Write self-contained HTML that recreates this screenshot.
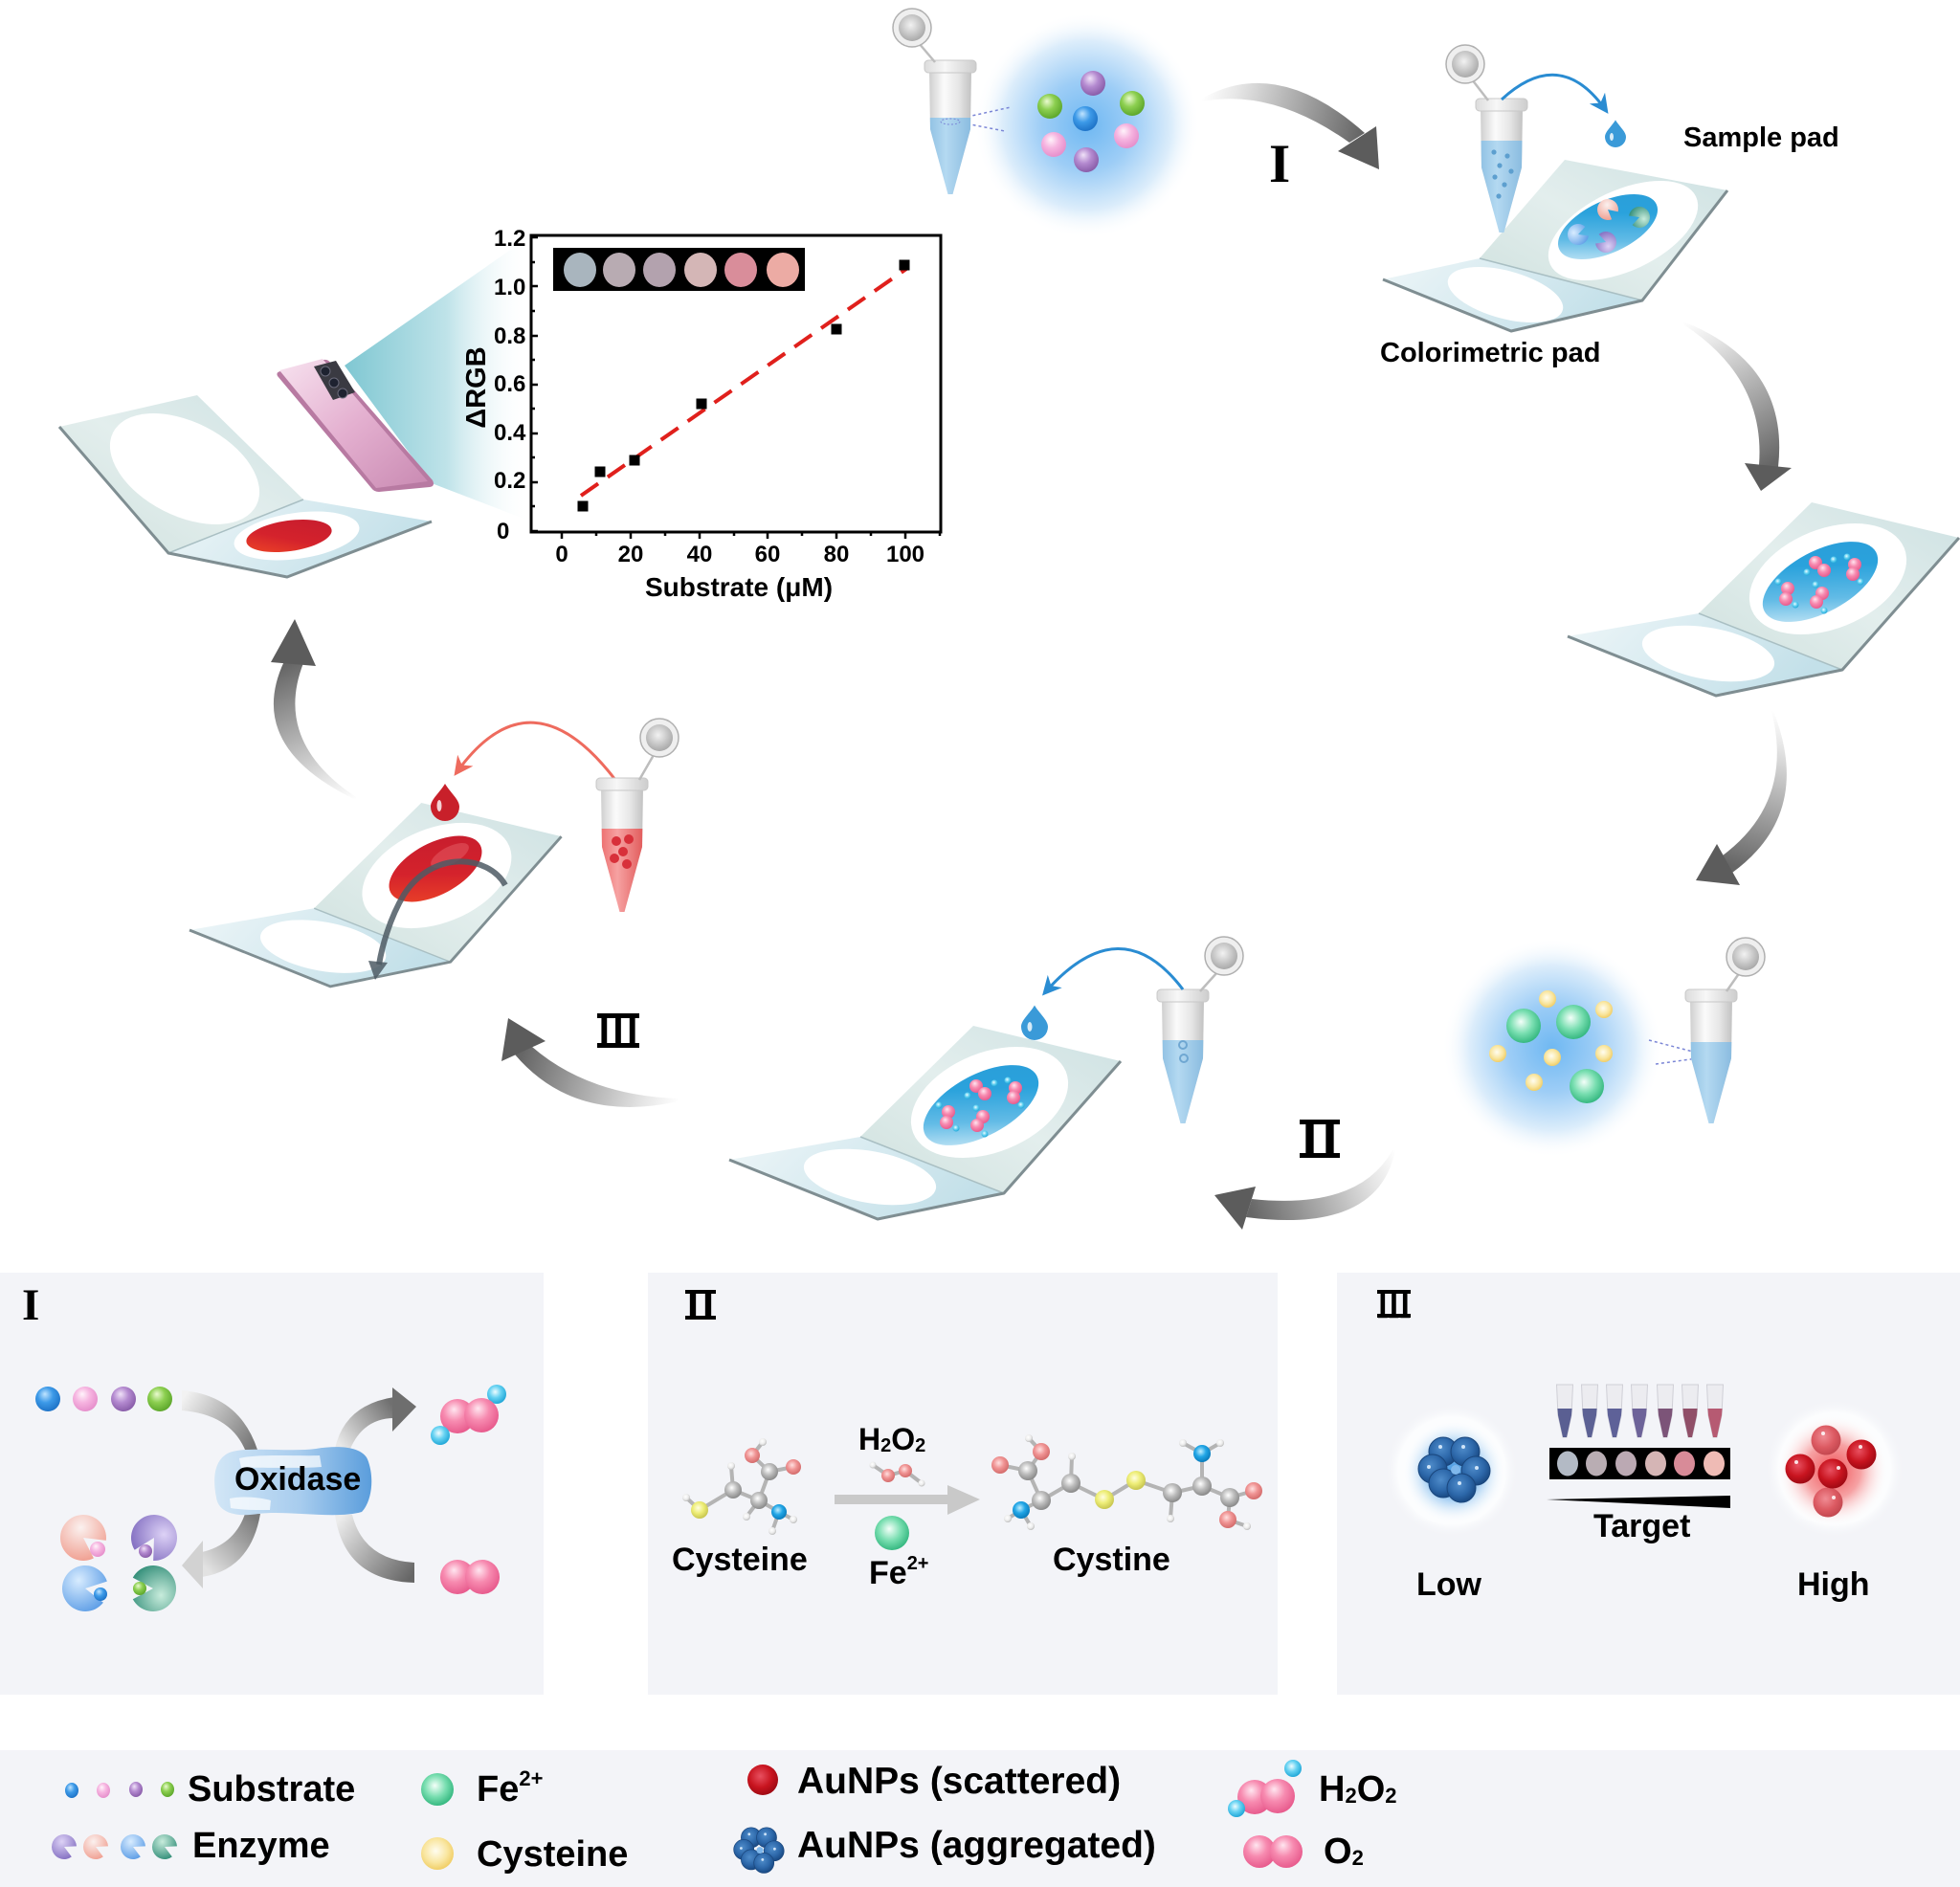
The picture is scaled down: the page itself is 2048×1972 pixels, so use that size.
<!DOCTYPE html>
<html><head><meta charset="utf-8">
<style>
html,body{margin:0;padding:0;background:#fff;}
svg{display:block;}
text{font-family:"Liberation Sans",Arial,sans-serif;font-weight:bold;fill:#000;}
.rn{font-family:"Liberation Serif","Times New Roman",serif;font-weight:bold;}
</style></head><body>
<svg width="2048" height="1972" viewBox="0 0 2048 1972" xmlns="http://www.w3.org/2000/svg">
<defs>
<radialGradient id="glowB" cx="0.5" cy="0.5" r="0.5">
 <stop offset="0" stop-color="#6fb8f2"/><stop offset="0.4" stop-color="#9dcdf6"/><stop offset="0.75" stop-color="#dcedfb"/><stop offset="1" stop-color="#ffffff" stop-opacity="0"/>
</radialGradient>
<radialGradient id="bBlue" cx="0.42" cy="0.38" r="0.62" fx="0.38" fy="0.3"><stop offset="0" stop-color="#c0e4ff"/><stop offset="0.5" stop-color="#3d9ae8"/><stop offset="1" stop-color="#1f74c8"/></radialGradient>
<radialGradient id="bPink" cx="0.42" cy="0.38" r="0.62" fx="0.38" fy="0.3"><stop offset="0" stop-color="#fff4fb"/><stop offset="0.5" stop-color="#f6b4e0"/><stop offset="1" stop-color="#e690cc"/></radialGradient>
<radialGradient id="bPurple" cx="0.42" cy="0.38" r="0.62" fx="0.38" fy="0.3"><stop offset="0" stop-color="#f0e2f8"/><stop offset="0.5" stop-color="#b48ad0"/><stop offset="1" stop-color="#8a5eaa"/></radialGradient>
<radialGradient id="bGreen" cx="0.42" cy="0.38" r="0.62" fx="0.38" fy="0.3"><stop offset="0" stop-color="#eafad0"/><stop offset="0.5" stop-color="#8ccf50"/><stop offset="1" stop-color="#5ea82c"/></radialGradient>
<radialGradient id="bFe" cx="0.45" cy="0.42" r="0.6" fx="0.42" fy="0.38"><stop offset="0" stop-color="#f4fff9"/><stop offset="0.55" stop-color="#78deb0"/><stop offset="1" stop-color="#32b67e"/></radialGradient>
<radialGradient id="bYel" cx="0.45" cy="0.42" r="0.6"><stop offset="0" stop-color="#fffdf0"/><stop offset="0.6" stop-color="#f9e6a0"/><stop offset="1" stop-color="#f0cc62"/></radialGradient>
<radialGradient id="bHP" cx="0.42" cy="0.38" r="0.62" fx="0.4" fy="0.3"><stop offset="0" stop-color="#ffe6f0"/><stop offset="0.5" stop-color="#f78bb0"/><stop offset="1" stop-color="#e85c8e"/></radialGradient>
<radialGradient id="bCyan" cx="0.42" cy="0.38" r="0.62"><stop offset="0" stop-color="#effcff"/><stop offset="0.5" stop-color="#66d2f2"/><stop offset="1" stop-color="#22a8d8"/></radialGradient>
<radialGradient id="bRed" cx="0.42" cy="0.38" r="0.62"><stop offset="0" stop-color="#e85060"/><stop offset="0.6" stop-color="#c8141f"/><stop offset="1" stop-color="#a00a14"/></radialGradient>
<radialGradient id="bRedL" cx="0.42" cy="0.38" r="0.62"><stop offset="0" stop-color="#f08c94"/><stop offset="0.6" stop-color="#dc5a62"/><stop offset="1" stop-color="#c44850"/></radialGradient>
<radialGradient id="bNavy" cx="0.42" cy="0.38" r="0.62"><stop offset="0" stop-color="#4f8cca"/><stop offset="0.6" stop-color="#2d68aa"/><stop offset="1" stop-color="#1a4a84"/></radialGradient>
<radialGradient id="bC" cx="0.42" cy="0.38" r="0.62"><stop offset="0" stop-color="#ffffff"/><stop offset="0.5" stop-color="#bdbdbd"/><stop offset="1" stop-color="#8a8a8a"/></radialGradient>
<radialGradient id="bO" cx="0.42" cy="0.38" r="0.62"><stop offset="0" stop-color="#ffe0e0"/><stop offset="0.5" stop-color="#f09494"/><stop offset="1" stop-color="#d46c6c"/></radialGradient>
<radialGradient id="bN" cx="0.42" cy="0.38" r="0.62"><stop offset="0" stop-color="#c0eeff"/><stop offset="0.5" stop-color="#22a6e6"/><stop offset="1" stop-color="#0a7cbc"/></radialGradient>
<radialGradient id="bS" cx="0.42" cy="0.38" r="0.62"><stop offset="0" stop-color="#fffde0"/><stop offset="0.5" stop-color="#eeee78"/><stop offset="1" stop-color="#c8c650"/></radialGradient>
<radialGradient id="bH" cx="0.42" cy="0.38" r="0.62"><stop offset="0" stop-color="#ffffff"/><stop offset="0.6" stop-color="#ececec"/><stop offset="1" stop-color="#bcbcbc"/></radialGradient>
<radialGradient id="eP" cx="0.35" cy="0.35" r="0.75"><stop offset="0" stop-color="#fbf1ef"/><stop offset="1" stop-color="#f0a092"/></radialGradient>
<radialGradient id="ePu" cx="0.35" cy="0.35" r="0.75"><stop offset="0" stop-color="#ddd2f6"/><stop offset="1" stop-color="#8470c2"/></radialGradient>
<radialGradient id="eB" cx="0.35" cy="0.35" r="0.75"><stop offset="0" stop-color="#d8ecff"/><stop offset="1" stop-color="#5e9ee6"/></radialGradient>
<radialGradient id="eT" cx="0.35" cy="0.35" r="0.75"><stop offset="0" stop-color="#c8ecdc"/><stop offset="1" stop-color="#348f7a"/></radialGradient>
<linearGradient id="tubeG" x1="0" y1="0" x2="1" y2="0"><stop offset="0" stop-color="#cfcfcf"/><stop offset="0.35" stop-color="#fbfbfb"/><stop offset="0.7" stop-color="#e6e6e6"/><stop offset="1" stop-color="#c2c2c2"/></linearGradient>
<linearGradient id="rimG" x1="0" y1="0" x2="1" y2="0"><stop offset="0" stop-color="#dcdcdc"/><stop offset="0.4" stop-color="#f7f7f7"/><stop offset="1" stop-color="#cdcdcd"/></linearGradient>
<radialGradient id="capG" cx="0.45" cy="0.4" r="0.6"><stop offset="0" stop-color="#f2f2f2"/><stop offset="1" stop-color="#a9a9a9"/></radialGradient>
<linearGradient id="liqB" x1="0" y1="0" x2="1" y2="0"><stop offset="0" stop-color="#8dbfe2"/><stop offset="0.4" stop-color="#b4d9f1"/><stop offset="1" stop-color="#86b9de"/></linearGradient>
<linearGradient id="liqR" x1="0" y1="0" x2="1" y2="0"><stop offset="0" stop-color="#ec6a6a"/><stop offset="0.4" stop-color="#f6a2a2"/><stop offset="1" stop-color="#e05656"/></linearGradient>
<clipPath id="tubeClip"><path d="M-22,10 L22,10 L21,72 L2.5,140 L-2.5,140 L-21,72 Z"/></clipPath>
<linearGradient id="padLow" x1="0" y1="0" x2="1" y2="0.3"><stop offset="0" stop-color="#eef6f8"/><stop offset="1" stop-color="#c3e0e9"/></linearGradient>
<linearGradient id="padUp" x1="0" y1="1" x2="1" y2="0"><stop offset="0" stop-color="#cfe1de"/><stop offset="0.5" stop-color="#e3eeed"/><stop offset="1" stop-color="#cde1e2"/></linearGradient>
<linearGradient id="blueE" x1="0" y1="1" x2="1" y2="0"><stop offset="0" stop-color="#eaf6fb"/><stop offset="0.35" stop-color="#62bbe6"/><stop offset="0.65" stop-color="#2aa2dc"/><stop offset="1" stop-color="#2a9cd8"/></linearGradient>
<linearGradient id="redE" x1="0" y1="1" x2="1" y2="0"><stop offset="0" stop-color="#f04a26"/><stop offset="0.45" stop-color="#d4222c"/><stop offset="1" stop-color="#c41c2e"/></linearGradient>
<linearGradient id="phoneG" x1="0" y1="0" x2="1" y2="1"><stop offset="0" stop-color="#f7e2ef"/><stop offset="0.5" stop-color="#e4b0d0"/><stop offset="1" stop-color="#c98ab2"/></linearGradient>
<linearGradient id="frustG" x1="0" y1="0" x2="1" y2="0"><stop offset="0" stop-color="#7fc7d2"/><stop offset="0.55" stop-color="#bfe3e9"/><stop offset="1" stop-color="#ffffff" stop-opacity="0"/></linearGradient>
<linearGradient id="oxG" x1="0" y1="0" x2="1" y2="0"><stop offset="0" stop-color="#d2e6f6"/><stop offset="0.55" stop-color="#a7ccee"/><stop offset="1" stop-color="#5a9ddc"/></linearGradient>
<radialGradient id="haloW" cx="0.5" cy="0.5" r="0.5"><stop offset="0" stop-color="#ffffff"/><stop offset="0.8" stop-color="#fcfdfe"/><stop offset="1" stop-color="#f3f4f8" stop-opacity="0"/></radialGradient>
<radialGradient id="glowBl" cx="0.5" cy="0.5" r="0.5"><stop offset="0" stop-color="#3f95e0"/><stop offset="0.5" stop-color="#7ab8ee" stop-opacity="0.8"/><stop offset="1" stop-color="#ffffff" stop-opacity="0"/></radialGradient>
<radialGradient id="glowRd" cx="0.5" cy="0.5" r="0.5"><stop offset="0" stop-color="#f04a50"/><stop offset="0.5" stop-color="#f48a8c" stop-opacity="0.8"/><stop offset="1" stop-color="#ffffff" stop-opacity="0"/></radialGradient>
<linearGradient id="gA1" gradientUnits="userSpaceOnUse" x1="1256" y1="103" x2="1420" y2="145"><stop offset="0" stop-color="#ffffff"/><stop offset="0.2" stop-color="#e6e6e6"/><stop offset="1" stop-color="#666"/></linearGradient>
<linearGradient id="gA2" gradientUnits="userSpaceOnUse" x1="1759" y1="336" x2="1848" y2="487"><stop offset="0" stop-color="#ffffff"/><stop offset="0.2" stop-color="#e6e6e6"/><stop offset="1" stop-color="#666"/></linearGradient>
<linearGradient id="gA3" gradientUnits="userSpaceOnUse" x1="1853" y1="743" x2="1805" y2="903"><stop offset="0" stop-color="#ffffff"/><stop offset="0.2" stop-color="#e6e6e6"/><stop offset="1" stop-color="#666"/></linearGradient>
<linearGradient id="gA4" gradientUnits="userSpaceOnUse" x1="1458" y1="1202" x2="1305" y2="1263"><stop offset="0" stop-color="#ffffff"/><stop offset="0.2" stop-color="#e6e6e6"/><stop offset="1" stop-color="#666"/></linearGradient>
<linearGradient id="gA5" gradientUnits="userSpaceOnUse" x1="709" y1="1151" x2="547" y2="1098"><stop offset="0" stop-color="#ffffff"/><stop offset="0.2" stop-color="#e6e6e6"/><stop offset="1" stop-color="#666"/></linearGradient>
<linearGradient id="gA6" gradientUnits="userSpaceOnUse" x1="372" y1="836" x2="307" y2="692"><stop offset="0" stop-color="#ffffff"/><stop offset="0.2" stop-color="#e6e6e6"/><stop offset="1" stop-color="#666"/></linearGradient>
<linearGradient id="gP1" gradientUnits="userSpaceOnUse" x1="190" y1="1463" x2="262" y2="1513"><stop offset="0" stop-color="#f2f2f2"/><stop offset="1" stop-color="#777"/></linearGradient>
<linearGradient id="gP2" gradientUnits="userSpaceOnUse" x1="358" y1="1513" x2="412" y2="1471"><stop offset="0" stop-color="#e8e8e8"/><stop offset="1" stop-color="#707070"/></linearGradient>
<linearGradient id="gP3" gradientUnits="userSpaceOnUse" x1="264" y1="1583" x2="211" y2="1635"><stop offset="0" stop-color="#7a7a7a"/><stop offset="1" stop-color="#e2e2e2"/></linearGradient>
<linearGradient id="gP4" gradientUnits="userSpaceOnUse" x1="358" y1="1583" x2="433" y2="1643"><stop offset="0" stop-color="#ececec"/><stop offset="1" stop-color="#666"/></linearGradient>
<marker id="mBlue" viewBox="0 0 10 10" markerWidth="20" markerHeight="20" refX="7" refY="5" orient="auto" markerUnits="userSpaceOnUse"><path d="M0,0 L10,5 L0,10 L3,5 Z" fill="#2a8cd2"/></marker>
<marker id="mRed" viewBox="0 0 10 10" markerWidth="20" markerHeight="20" refX="7" refY="5" orient="auto" markerUnits="userSpaceOnUse"><path d="M0,0 L10,5 L0,10 L3,5 Z" fill="#ee6b5e"/></marker>
<path id="pac" d="M0,0 L0.883,-0.469 A1,1 0 1,0 0.883,0.469 Z"/>
<path id="drop" d="M0,-1.6 C0.35,-1 1,-0.5 1,0 A1,1 0 1,1 -1,0 C-1,-0.5 -0.35,-1 0,-1.6 Z"/>
<g id="pad">
 <path d="M0,0 L155,62 L287,35 L137,-24 Z" fill="url(#padLow)"/>
 <path d="M137,-24 L287,35 L409,-103 L255,-140 Z" fill="url(#padUp)"/>
 <path d="M137,-24 L287,35" stroke="#a9bfc3" stroke-width="1.5"/>
 <path d="M0,0 L155,62 L287,35 L409,-103" fill="none" stroke="#7f8e92" stroke-width="3" stroke-linejoin="round"/>
 <ellipse cx="147" cy="18" rx="70" ry="27" transform="rotate(10 147 18)" fill="#fff"/>
 <ellipse cx="272" cy="-60" rx="86" ry="52" transform="rotate(-22 272 -60)" fill="#fff"/>
</g>
<g id="h2o2s">
 <circle cx="1916" cy="585" r="3.5" fill="url(#bCyan)"/><circle cx="1888" cy="598" r="3.5" fill="url(#bCyan)"/>
 <circle cx="1897" cy="588" r="7" fill="url(#bHP)"/><circle cx="1906" cy="596" r="7" fill="url(#bHP)"/>
 <circle cx="1930" cy="582" r="3.5" fill="url(#bCyan)"/><circle cx="1944" cy="608" r="3.5" fill="url(#bCyan)"/>
 <circle cx="1938" cy="590" r="7" fill="url(#bHP)"/><circle cx="1936" cy="600" r="7" fill="url(#bHP)"/>
 <circle cx="1858" cy="608" r="3.5" fill="url(#bCyan)"/><circle cx="1876" cy="632" r="3.5" fill="url(#bCyan)"/>
 <circle cx="1868" cy="615" r="7" fill="url(#bHP)"/><circle cx="1866" cy="626" r="7" fill="url(#bHP)"/>
 <circle cx="1897" cy="611" r="3.5" fill="url(#bCyan)"/><circle cx="1906" cy="638" r="3.5" fill="url(#bCyan)"/>
 <circle cx="1904" cy="620" r="7" fill="url(#bHP)"/><circle cx="1898" cy="629" r="7" fill="url(#bHP)"/>
</g>
<g id="cluster">
 <circle cx="-13" cy="-21" r="15" fill="url(#bNavy)" stroke="#1a467c" stroke-width="1"/>
 <circle cx="10" cy="-21" r="15" fill="url(#bNavy)" stroke="#1a467c" stroke-width="1"/>
 <circle cx="-24" cy="-3" r="15" fill="url(#bNavy)" stroke="#1a467c" stroke-width="1"/>
 <circle cx="21" cy="-1" r="15" fill="url(#bNavy)" stroke="#1a467c" stroke-width="1"/>
 <circle cx="-13" cy="12" r="15" fill="url(#bNavy)" stroke="#1a467c" stroke-width="1"/>
 <circle cx="6" cy="17" r="15" fill="url(#bNavy)" stroke="#1a467c" stroke-width="1"/>
 <circle cx="0" cy="-2" r="5" fill="#7fb8ec"/>
 <circle cx="-16" cy="-26" r="2" fill="#cfe4f8"/><circle cx="8" cy="-26" r="2" fill="#cfe4f8"/><circle cx="-28" cy="-5" r="2" fill="#cfe4f8"/><circle cx="22" cy="-4" r="2" fill="#cfe4f8"/><circle cx="4" cy="12" r="2" fill="#cfe4f8"/>
</g>
<g id="minitube">
 <path d="M-8.5,0 L8.5,0 L7,32 L2,55 L-2,55 L-7,32 Z" fill="#ececf0" stroke="#cfcfd6" stroke-width="1"/>
</g>
</defs>

<!-- ===== Top glow 1 ===== -->
<circle cx="1136" cy="131" r="118" fill="url(#glowB)"/>
<circle cx="1142" cy="87" r="13" fill="url(#bPurple)"/>
<circle cx="1097" cy="111" r="13" fill="url(#bGreen)"/>
<circle cx="1134" cy="124" r="13" fill="url(#bBlue)"/>
<circle cx="1183" cy="108" r="13" fill="url(#bGreen)"/>
<circle cx="1101" cy="151" r="13" fill="url(#bPink)"/>
<circle cx="1177" cy="142" r="13" fill="url(#bPink)"/>
<circle cx="1135" cy="167" r="13" fill="url(#bPurple)"/>
<path d="M993,126 L1056,112 M993,126 L1050,137" stroke="#7b86d6" stroke-width="1.5" stroke-dasharray="3,3" fill="none"/>

<!-- Tube 1 -->
<g transform="translate(993,63)">
 <path d="M-22,10 L22,10 L21,72 L2.5,140 L-2.5,140 L-21,72 Z" fill="url(#tubeG)"/>
 <rect x="-24" y="60" width="48" height="82" fill="url(#liqB)" clip-path="url(#tubeClip)"/>
 <ellipse cx="0" cy="64" rx="10" ry="3" fill="none" stroke="#7b86d6" stroke-width="1" stroke-dasharray="2,2"/>
 <rect x="-27" y="0" width="54" height="13" rx="4" fill="url(#rimG)" stroke="#c8c8c8"/>
 <path d="M-33,-18 L-16,2" stroke="#bdbdbd" stroke-width="2.5"/>
 <circle cx="-40" cy="-34" r="20" fill="#efefef" stroke="#b0b0b0" stroke-width="1.5"/>
 <circle cx="-40" cy="-34" r="14" fill="url(#capG)"/>
</g>

<!-- Arrow I -->
<path d="M1256,103 Q1335,58 1426,139 L1410,149 Q1330,92 1256,106 Z" fill="url(#gA1)"/>
<polygon points="1398,158 1438,132 1441,177" fill="#5c5c5c"/>
<text class="rn" x="1326" y="190" font-size="57">I</text>

<!-- Pad 1 -->
<path d="M1445,292 L1579,346 L1716,314 L1546,270 Z" fill="url(#padLow)"/>
<path d="M1546,270 L1716,314 L1805,199 L1635,167 Z" fill="url(#padUp)"/>
<path d="M1546,270 L1716,314" stroke="#a9bfc3" stroke-width="1.5"/>
<path d="M1445,292 L1579,346 L1716,314 L1805,199" fill="none" stroke="#7f8e92" stroke-width="3" stroke-linejoin="round"/>
<ellipse cx="1573" cy="308" rx="62" ry="25" transform="rotate(15 1573 308)" fill="#fff"/>
<ellipse cx="1696" cy="241" rx="84" ry="42" transform="rotate(-25 1696 241)" fill="#fff"/>
<ellipse cx="1680" cy="237" rx="56" ry="27" transform="rotate(-25 1680 237)" fill="url(#blueE)"/>
<use href="#pac" transform="translate(1680,219) rotate(40) scale(11)" fill="url(#eP)"/>
<use href="#pac" transform="translate(1713,227) rotate(160) scale(11)" fill="url(#eT)"/>
<use href="#pac" transform="translate(1649,245) rotate(-20) scale(11)" fill="url(#eB)"/>
<use href="#pac" transform="translate(1678,253) rotate(200) scale(11)" fill="url(#ePu)"/>

<!-- Tube 2 -->
<g transform="translate(1569,103)">
 <path d="M-22,10 L22,10 L21,72 L2.5,140 L-2.5,140 L-21,72 Z" fill="url(#tubeG)"/>
 <rect x="-24" y="44" width="48" height="98" fill="url(#liqB)" clip-path="url(#tubeClip)"/>
 <g fill="#5d9fcf"><circle cx="-8" cy="56" r="2.6"/><circle cx="6" cy="60" r="2.6"/><circle cx="-2" cy="70" r="2.6"/><circle cx="10" cy="76" r="2.6"/><circle cx="-7" cy="82" r="2.6"/><circle cx="3" cy="90" r="2.6"/><circle cx="-3" cy="102" r="2.6"/></g>
 <rect x="-27" y="0" width="54" height="13" rx="4" fill="url(#rimG)" stroke="#c8c8c8"/>
 <path d="M-31,-20 L-14,2" stroke="#bdbdbd" stroke-width="2.5"/>
 <circle cx="-38" cy="-36" r="20" fill="#efefef" stroke="#b0b0b0" stroke-width="1.5"/>
 <circle cx="-38" cy="-36" r="14" fill="url(#capG)"/>
</g>
<path d="M1569,104 Q1630,48 1677,114" fill="none" stroke="#2a8cd2" stroke-width="3" marker-end="url(#mBlue)"/>
<use href="#drop" transform="translate(1688,143) scale(11)" fill="#3a9ad8"/>
<ellipse cx="1684" cy="143" rx="2" ry="4" fill="#fff" opacity="0.8"/>
<text x="1759" y="153" font-size="29">Sample pad</text>
<text x="1442" y="378" font-size="29">Colorimetric pad</text>

<!-- Arrow 2 -->
<path d="M1759,336 Q1870,380 1858,488 L1838,486 Q1845,395 1759,339 Z" fill="url(#gA2)"/>
<polygon points="1823,484 1872,489 1840,513" fill="#5c5c5c"/>

<!-- Pad 2 -->
<use href="#pad" transform="translate(1638,665)"/>
<ellipse cx="1902" cy="608" rx="66" ry="32" transform="rotate(-28 1902 608)" fill="url(#blueE)"/>
<use href="#h2o2s"/>

<!-- Arrow 3 -->
<path d="M1853,743 Q1895,850 1810,912 L1800,894 Q1875,838 1851,743 Z" fill="url(#gA3)"/>
<polygon points="1794,882 1818,925 1772,920" fill="#5c5c5c"/>

<!-- Glow 2 -->
<circle cx="1622" cy="1095" r="115" fill="url(#glowB)"/>
<circle cx="1617" cy="1044" r="9" fill="url(#bYel)"/>
<circle cx="1676" cy="1055" r="9" fill="url(#bYel)"/>
<circle cx="1565" cy="1101" r="9" fill="url(#bYel)"/>
<circle cx="1622" cy="1105" r="9" fill="url(#bYel)"/>
<circle cx="1676" cy="1101" r="9" fill="url(#bYel)"/>
<circle cx="1603" cy="1131" r="9" fill="url(#bYel)"/>
<circle cx="1592" cy="1072" r="18" fill="url(#bFe)"/>
<circle cx="1644" cy="1068" r="18" fill="url(#bFe)"/>
<circle cx="1658" cy="1135" r="18" fill="url(#bFe)"/>
<path d="M1723,1087 L1788,1104 M1730,1112 L1788,1104" stroke="#7b86d6" stroke-width="1.5" stroke-dasharray="3,3" fill="none"/>

<!-- Tube 3 -->
<g transform="translate(1788,1034)">
 <path d="M-22,10 L22,10 L21,72 L2.5,140 L-2.5,140 L-21,72 Z" fill="url(#tubeG)"/>
 <rect x="-24" y="55" width="48" height="87" fill="url(#liqB)" clip-path="url(#tubeClip)"/>
 <rect x="-27" y="0" width="54" height="13" rx="4" fill="url(#rimG)" stroke="#c8c8c8"/>
 <path d="M30,-18 L16,2" stroke="#bdbdbd" stroke-width="2.5"/>
 <circle cx="36" cy="-34" r="20" fill="#efefef" stroke="#b0b0b0" stroke-width="1.5"/>
 <circle cx="36" cy="-34" r="14" fill="url(#capG)"/>
</g>

<!-- Tube 4 -->
<g transform="translate(1236,1034)">
 <path d="M-22,10 L22,10 L21,72 L2.5,140 L-2.5,140 L-21,72 Z" fill="url(#tubeG)"/>
 <rect x="-24" y="53" width="48" height="89" fill="url(#liqB)" clip-path="url(#tubeClip)"/>
 <circle cx="0" cy="58" r="4" fill="none" stroke="#6fa7d2" stroke-width="2"/>
 <circle cx="1" cy="72" r="4" fill="none" stroke="#6fa7d2" stroke-width="2"/>
 <rect x="-27" y="0" width="54" height="13" rx="4" fill="url(#rimG)" stroke="#c8c8c8"/>
 <path d="M36,-18 L18,2" stroke="#bdbdbd" stroke-width="2.5"/>
 <circle cx="43" cy="-35" r="20" fill="#efefef" stroke="#b0b0b0" stroke-width="1.5"/>
 <circle cx="43" cy="-35" r="14" fill="url(#capG)"/>
</g>

<!-- Arrow II -->
<path d="M1458,1202 Q1440,1290 1302,1272 L1308,1253 Q1420,1265 1455,1202 Z" fill="url(#gA4)"/>
<polygon points="1312,1240 1298,1285 1269,1249" fill="#5c5c5c"/>
<text class="rn" x="1358" y="1210" font-size="60" textLength="42" lengthAdjust="spacingAndGlyphs">II</text>
<rect x="1358" y="1170" width="42" height="5" fill="#000"/>
<rect x="1358" y="1205" width="42" height="5" fill="#000"/>

<!-- Pad 3 -->
<use href="#pad" transform="translate(762,1212)"/>
<ellipse cx="1025" cy="1155" rx="66" ry="32" transform="rotate(-28 1025 1155)" fill="url(#blueE)"/>
<use href="#h2o2s" transform="translate(-877,547)"/>
<path d="M1236,1034 Q1171,948 1093,1036" fill="none" stroke="#2a8cd2" stroke-width="3" marker-end="url(#mBlue)"/>
<use href="#drop" transform="translate(1081,1073) scale(14)" fill="#3a9ad8"/>
<ellipse cx="1076" cy="1073" rx="2.5" ry="5" fill="#fff" opacity="0.8"/>

<!-- Arrow III -->
<path d="M709,1151 Q600,1175 538,1102 L556,1094 Q615,1145 709,1148 Z" fill="url(#gA5)"/>
<polygon points="524,1109 570,1088 531,1064" fill="#5c5c5c"/>
<text class="rn" x="624" y="1095" font-size="54" textLength="44" lengthAdjust="spacingAndGlyphs">III</text>
<rect x="624" y="1059" width="44" height="5" fill="#000"/>
<rect x="624" y="1090" width="44" height="5" fill="#000"/>

<!-- Pad 4 (red) -->
<use href="#pad" transform="translate(198,972) scale(0.95)"/>
<ellipse cx="455" cy="908" rx="53" ry="27" transform="rotate(-28 455 908)" fill="url(#redE)"/>
<ellipse cx="470" cy="894" rx="22" ry="9" transform="rotate(-28 470 894)" fill="#f07a80" opacity="0.35"/>
<path d="M528,925 C510,893 452,888 422,935 C407,960 399,990 396,1008" fill="none" stroke="#4d5a64" stroke-opacity="0.85" stroke-width="6"/>
<polygon points="385,1004 405,1006 392,1024" fill="#4d5a64" opacity="0.85"/>
<use href="#drop" transform="translate(465,843) scale(15)" fill="#c8202a"/>
<ellipse cx="459" cy="842" rx="2.5" ry="6" fill="#fff" opacity="0.8"/>
<path d="M643,815 Q555,700 478,806" fill="none" stroke="#ee6b5e" stroke-width="3" marker-end="url(#mRed)"/>

<!-- Tube 5 (red) -->
<g transform="translate(650,813)">
 <path d="M-22,10 L22,10 L21,72 L2.5,140 L-2.5,140 L-21,72 Z" fill="url(#tubeG)"/>
 <rect x="-24" y="53" width="48" height="89" fill="url(#liqR)" clip-path="url(#tubeClip)"/>
 <g fill="#d8303a"><circle cx="-6" cy="66" r="5"/><circle cx="7" cy="64" r="5"/><circle cx="1" cy="77" r="5"/><circle cx="-8" cy="84" r="5"/><circle cx="5" cy="90" r="5"/></g>
 <rect x="-27" y="0" width="54" height="13" rx="4" fill="url(#rimG)" stroke="#c8c8c8"/>
 <path d="M33,-24 L18,2" stroke="#bdbdbd" stroke-width="2.5"/>
 <circle cx="39" cy="-42" r="20" fill="#efefef" stroke="#b0b0b0" stroke-width="1.5"/>
 <circle cx="39" cy="-42" r="14" fill="url(#capG)"/>
</g>

<!-- Arrow left up -->
<path d="M372,836 Q255,780 297,691 L317,693 Q285,775 372,833 Z" fill="url(#gA6)"/>
<polygon points="283,692 330,696 308,647" fill="#5c5c5c"/>

<!-- Phone pad -->
<polygon points="360,382 555,246 555,545 451,505" fill="url(#frustG)"/>
<path d="M62,446 L206,413 L317,522 L176,578 Z" fill="url(#padUp)"/>
<path d="M176,578 L317,522 L451,545 L300,603 Z" fill="url(#padLow)"/>
<path d="M176,578 L317,522" stroke="#a9bfc3" stroke-width="1.5"/>
<path d="M62,446 L176,578 L300,603 L451,545" fill="none" stroke="#7f8e92" stroke-width="3" stroke-linejoin="round"/>
<ellipse cx="193" cy="490" rx="84" ry="49" transform="rotate(27 193 490)" fill="#fff"/>
<ellipse cx="310" cy="560" rx="66" ry="24" transform="rotate(-8 310 560)" fill="#fff"/>
<ellipse cx="302" cy="560" rx="45" ry="16" transform="rotate(-8 302 560)" fill="url(#redE)"/>
<!-- phone -->
<path d="M293,388 L338,376 Q343,375 346,380 L452,502 Q455,508 449,509 L396,514 Q391,514 388,510 L290,393 Q288,389 293,388 Z" fill="#b87aa2"/>
<path d="M292,387 L337,375 L447,503 L393,510 Z" fill="url(#phoneG)"/>
<path d="M328,383 L351,377 L371,410 L348,418 Z" fill="#3a3a42"/>
<circle cx="340" cy="388" r="5" fill="#1e2230" stroke="#6a6a7a"/>
<circle cx="349" cy="400" r="5" fill="#1e2230" stroke="#6a6a7a"/>
<circle cx="358" cy="411" r="5" fill="#1e2230" stroke="#6a6a7a"/>

<!-- Chart -->
<rect x="578" y="259" width="263" height="45" fill="#000"/>
<ellipse cx="606" cy="282" rx="17" ry="18" fill="#a9b5be"/>
<ellipse cx="647" cy="282" rx="17" ry="18" fill="#b8abb2"/>
<ellipse cx="689" cy="282" rx="17" ry="18" fill="#b3a2ae"/>
<ellipse cx="732" cy="282" rx="17" ry="18" fill="#d4b6b6"/>
<ellipse cx="774" cy="282" rx="17" ry="18" fill="#d98d9a"/>
<ellipse cx="818" cy="282" rx="17" ry="18" fill="#ecaba4"/>
<rect x="555" y="246" width="428" height="310" fill="none" stroke="#000" stroke-width="3"/>
<g stroke="#000" stroke-width="2.5" fill="none">
 <path d="M555,555 h7 M555,504 h7 M555,453 h7 M555,402 h7 M555,351 h7 M555,299 h7 M555,248 h7"/>
 <path d="M555,529 h4 M555,478 h4 M555,427 h4 M555,376 h4 M555,325 h4 M555,274 h4"/>
 <path d="M587,556 v7 M659,556 v7 M731,556 v7 M802,556 v7 M874,556 v7 M946,556 v7"/>
 <path d="M623,556 v4 M695,556 v4 M767,556 v4 M838,556 v4 M910,556 v4 M982,556 v4"/>
</g>
<g font-size="24">
 <text x="516" y="257">1.2</text>
 <text x="516" y="308">1.0</text>
 <text x="516" y="359">0.8</text>
 <text x="516" y="409">0.6</text>
 <text x="516" y="460">0.4</text>
 <text x="516" y="510">0.2</text>
 <text x="519" y="563">0</text>
</g>
<g font-size="24" text-anchor="middle">
 <text x="587" y="587">0</text>
 <text x="659" y="587">20</text>
 <text x="731" y="587">40</text>
 <text x="802" y="587">60</text>
 <text x="874" y="587">80</text>
 <text x="946" y="587">100</text>
</g>
<text x="772" y="623" font-size="28" text-anchor="middle">Substrate (μM)</text>
<text transform="translate(507,405) rotate(-90)" font-size="29" text-anchor="middle">ΔRGB</text>
<line x1="607" y1="518" x2="947" y2="281" stroke="#e0201c" stroke-width="4" stroke-dasharray="22,12"/>
<g fill="#000">
 <rect x="603.5" y="523.5" width="11" height="11"/>
 <rect x="621.5" y="487.5" width="11" height="11"/>
 <rect x="657.5" y="475.5" width="11" height="11"/>
 <rect x="727.5" y="416.5" width="11" height="11"/>
 <rect x="868.5" y="338.5" width="11" height="11"/>
 <rect x="939.5" y="271.5" width="11" height="11"/>
</g>

<!-- ===== Bottom panels ===== -->
<rect x="0" y="1330" width="568" height="441" fill="#f3f4f8"/>
<rect x="677" y="1330" width="658" height="441" fill="#f3f4f8"/>
<rect x="1397" y="1330" width="651" height="441" fill="#f3f4f8"/>
<rect x="0" y="1829" width="2048" height="143" fill="#f3f4f8"/>

<!-- Panel I -->
<text class="rn" x="23" y="1379" font-size="47">I</text>
<circle cx="50" cy="1462" r="13" fill="url(#bBlue)"/>
<circle cx="89" cy="1462" r="13" fill="url(#bPink)"/>
<circle cx="129" cy="1462" r="13" fill="url(#bPurple)"/>
<circle cx="167" cy="1462" r="13" fill="url(#bGreen)"/>
<path d="M190,1453 Q250,1458 269,1515 L256,1515 Q240,1478 190,1474 Z" fill="url(#gP1)"/>
<path d="M350,1514 Q360,1468 412,1460 L412,1482 Q380,1482 366,1514 Z" fill="url(#gP2)"/>
<polygon points="410,1450 435,1470 410,1496" fill="#6e6e6e"/>
<path d="M272,1582 Q262,1640 211,1648 L211,1622 Q245,1614 256,1582 Z" fill="url(#gP3)"/>
<polygon points="212,1610 190,1636 212,1660" fill="#d2d2d2"/>
<path d="M350,1583 Q360,1652 433,1654 L433,1633 Q380,1630 368,1583 Z" fill="url(#gP4)"/>
<path d="M236,1520 C250,1510 300,1518 330,1514 C355,1510 378,1512 384,1525 C392,1545 388,1570 378,1580 C350,1588 300,1578 270,1582 C245,1586 228,1580 226,1565 C222,1545 224,1528 236,1520 Z" fill="url(#oxG)"/>
<path d="M250,1524 C270,1519 310,1522 334,1521 L336,1533 C310,1535 270,1533 252,1534 Z" fill="#ffffff" opacity="0.7"/>
<path d="M240,1566 C255,1563 272,1565 283,1568 L282,1578 C268,1578 252,1578 241,1576 Z" fill="#ffffff" opacity="0.7"/>
<text x="245" y="1557" font-size="34">Oxidase</text>
<circle cx="519" cy="1457" r="10" fill="url(#bCyan)"/>
<circle cx="478" cy="1480" r="18" fill="url(#bHP)"/>
<circle cx="503" cy="1479" r="18" fill="url(#bHP)"/>
<circle cx="460" cy="1500" r="10" fill="url(#bCyan)"/>
<circle cx="478" cy="1648" r="18" fill="url(#bHP)"/>
<circle cx="504" cy="1648" r="18" fill="url(#bHP)"/>
<use href="#pac" transform="translate(87,1607) rotate(35) scale(24)" fill="url(#eP)"/>
<circle cx="102" cy="1619" r="8" fill="url(#bPink)"/>
<use href="#pac" transform="translate(161,1607) rotate(120) scale(24)" fill="url(#ePu)"/>
<circle cx="152" cy="1621" r="7" fill="url(#bPurple)"/>
<use href="#pac" transform="translate(89,1660) rotate(10) scale(24)" fill="url(#eB)"/>
<circle cx="105" cy="1666" r="7" fill="url(#bBlue)"/>
<use href="#pac" transform="translate(160,1660) rotate(180) scale(24)" fill="url(#eT)"/>
<circle cx="146" cy="1660" r="7" fill="url(#bGreen)"/>

<!-- Panel II -->
<text class="rn" x="716" y="1379" font-size="47" textLength="32" lengthAdjust="spacingAndGlyphs">II</text>
<rect x="716" y="1348" width="32" height="4" fill="#000"/>
<rect x="716" y="1375" width="32" height="4" fill="#000"/>
<g stroke="#b4b4b4" stroke-width="4" stroke-linecap="round" stroke-linejoin="round" fill="none">
 <path d="M731,1578 L766,1557 L793,1568 L804,1538 L786,1521 M804,1538 L829,1533 M793,1568 L814,1580 M731,1578 L717,1565 M766,1557 L764,1532 M793,1568 L780,1585 M786,1521 L797,1507 M814,1580 L807,1600 M814,1580 L829,1588"/>
 <path d="M1045,1531 L1074,1537 L1088,1517 L1075,1503 M1074,1537 L1088,1568 L1067,1578 L1053,1587 M1067,1578 L1077,1595 M1088,1568 L1119,1550 L1120,1522 M1119,1550 L1154,1567 L1187,1547 L1225,1560 L1223,1587 M1225,1560 L1256,1553 L1256,1519 L1236,1508 M1256,1519 L1275,1508 M1256,1553 L1285,1565 L1310,1558 M1285,1565 L1283,1588 L1303,1595"/>
 <path d="M912,1531 L928,1542 L946,1537 L963,1550"/>
</g>
<g>
 <circle cx="717" cy="1565" r="4" fill="url(#bH)"/><circle cx="764" cy="1532" r="4" fill="url(#bH)"/><circle cx="780" cy="1585" r="4" fill="url(#bH)"/><circle cx="797" cy="1507" r="4" fill="url(#bH)"/><circle cx="807" cy="1600" r="4" fill="url(#bH)"/><circle cx="829" cy="1588" r="4" fill="url(#bH)"/>
 <circle cx="731" cy="1578" r="9" fill="url(#bS)"/>
 <circle cx="766" cy="1557" r="9" fill="url(#bC)"/>
 <circle cx="793" cy="1568" r="9" fill="url(#bC)"/>
 <circle cx="804" cy="1538" r="9" fill="url(#bC)"/>
 <circle cx="786" cy="1521" r="8" fill="url(#bO)"/>
 <circle cx="829" cy="1533" r="8" fill="url(#bO)"/>
 <circle cx="814" cy="1580" r="8" fill="url(#bN)"/>
</g>
<g>
 <circle cx="1075" cy="1503" r="4" fill="url(#bH)"/><circle cx="1053" cy="1587" r="4" fill="url(#bH)"/><circle cx="1077" cy="1595" r="4" fill="url(#bH)"/><circle cx="1120" cy="1522" r="4" fill="url(#bH)"/><circle cx="1223" cy="1587" r="4" fill="url(#bH)"/><circle cx="1236" cy="1508" r="4" fill="url(#bH)"/><circle cx="1275" cy="1508" r="4" fill="url(#bH)"/><circle cx="1303" cy="1595" r="4" fill="url(#bH)"/>
 <circle cx="1045" cy="1531" r="9" fill="url(#bO)"/>
 <circle cx="1088" cy="1517" r="9" fill="url(#bO)"/>
 <circle cx="1074" cy="1537" r="10" fill="url(#bC)"/>
 <circle cx="1088" cy="1568" r="10" fill="url(#bC)"/>
 <circle cx="1067" cy="1578" r="9" fill="url(#bN)"/>
 <circle cx="1119" cy="1550" r="10" fill="url(#bC)"/>
 <circle cx="1154" cy="1567" r="10" fill="url(#bS)"/>
 <circle cx="1187" cy="1547" r="10" fill="url(#bS)"/>
 <circle cx="1225" cy="1560" r="10" fill="url(#bC)"/>
 <circle cx="1256" cy="1553" r="10" fill="url(#bC)"/>
 <circle cx="1256" cy="1519" r="9" fill="url(#bN)"/>
 <circle cx="1285" cy="1565" r="10" fill="url(#bC)"/>
 <circle cx="1310" cy="1558" r="9" fill="url(#bO)"/>
 <circle cx="1283" cy="1588" r="9" fill="url(#bO)"/>
</g>
<circle cx="912" cy="1531" r="3.5" fill="url(#bH)"/><circle cx="963" cy="1550" r="3.5" fill="url(#bH)"/>
<circle cx="928" cy="1542" r="7" fill="url(#bO)"/><circle cx="946" cy="1537" r="7" fill="url(#bO)"/>
<rect x="872" y="1562" width="120" height="10" fill="#c9c9c9"/>
<polygon points="990,1552 1024,1567 990,1583" fill="#c9c9c9"/>
<circle cx="932" cy="1602" r="18" fill="url(#bFe)"/>
<text x="897" y="1515" font-size="32">H<tspan font-size="20" dy="2">2</tspan><tspan dy="-2">O</tspan><tspan font-size="20" dy="2">2</tspan></text>
<text x="908" y="1655" font-size="34">Fe<tspan font-size="20" dy="-15">2+</tspan></text>
<text x="702" y="1641" font-size="34">Cysteine</text>
<text x="1100" y="1641" font-size="34">Cystine</text>

<!-- Panel III -->
<text class="rn" x="1439" y="1377" font-size="44" textLength="35" lengthAdjust="spacingAndGlyphs">III</text>
<rect x="1439" y="1348" width="35" height="4" fill="#000"/>
<rect x="1439" y="1373" width="35" height="4" fill="#000"/>
<circle cx="1517" cy="1537" r="70" fill="url(#haloW)"/>
<circle cx="1519" cy="1538" r="54" fill="url(#glowBl)"/>
<use href="#cluster" transform="translate(1521,1538)"/>
<circle cx="1917" cy="1535" r="73" fill="url(#haloW)"/>
<circle cx="1915" cy="1537" r="58" fill="url(#glowRd)"/>
<circle cx="1908" cy="1505" r="15.5" fill="url(#bRedL)"/>
<circle cx="1945" cy="1520" r="15.5" fill="url(#bRed)"/>
<circle cx="1881" cy="1535" r="15.5" fill="url(#bRed)"/>
<circle cx="1910" cy="1570" r="15.5" fill="url(#bRedL)"/>
<circle cx="1915" cy="1540" r="15.5" fill="url(#bRed)"/>
<g fill="#fff" opacity="0.85"><circle cx="1905" cy="1498" r="2"/><circle cx="1944" cy="1512" r="2"/><circle cx="1877" cy="1528" r="2"/><circle cx="1921" cy="1534" r="2"/><circle cx="1916" cy="1565" r="2"/></g>
<g>
 <use href="#minitube" transform="translate(1635,1447)"/>
 <use href="#minitube" transform="translate(1661,1447)"/>
 <use href="#minitube" transform="translate(1687,1447)"/>
 <use href="#minitube" transform="translate(1713,1447)"/>
 <use href="#minitube" transform="translate(1740,1447)"/>
 <use href="#minitube" transform="translate(1766,1447)"/>
 <use href="#minitube" transform="translate(1792,1447)"/>
 <path transform="translate(1635,1447)" d="M-7.6,25 L7.6,25 L7,32 L2,55 L-2,55 L-7,32 Z" fill="#5a5f92"/>
 <path transform="translate(1661,1447)" d="M-7.6,25 L7.6,25 L7,32 L2,55 L-2,55 L-7,32 Z" fill="#5c6194"/>
 <path transform="translate(1687,1447)" d="M-7.6,25 L7.6,25 L7,32 L2,55 L-2,55 L-7,32 Z" fill="#5e6198"/>
 <path transform="translate(1713,1447)" d="M-7.6,25 L7.6,25 L7,32 L2,55 L-2,55 L-7,32 Z" fill="#6d6399"/>
 <path transform="translate(1740,1447)" d="M-7.6,25 L7.6,25 L7,32 L2,55 L-2,55 L-7,32 Z" fill="#7c5478"/>
 <path transform="translate(1766,1447)" d="M-7.6,25 L7.6,25 L7,32 L2,55 L-2,55 L-7,32 Z" fill="#904f68"/>
 <path transform="translate(1792,1447)" d="M-7.6,25 L7.6,25 L7,32 L2,55 L-2,55 L-7,32 Z" fill="#b65a72"/>
</g>
<rect x="1619" y="1513" width="189" height="33" fill="#000"/>
<ellipse cx="1638" cy="1529.5" rx="11" ry="13" fill="#b3bac5"/>
<ellipse cx="1668" cy="1529.5" rx="11" ry="13" fill="#b9adb3"/>
<ellipse cx="1699" cy="1529.5" rx="11" ry="13" fill="#bba9b3"/>
<ellipse cx="1730" cy="1529.5" rx="11" ry="13" fill="#d5b5b5"/>
<ellipse cx="1760" cy="1529.5" rx="11" ry="13" fill="#d88b98"/>
<ellipse cx="1791" cy="1529.5" rx="11" ry="13" fill="#efbbb5"/>
<polygon points="1616,1567 1808,1563 1808,1576" fill="#000"/>
<text x="1665" y="1606" font-size="34">Target</text>
<text x="1480" y="1667" font-size="34">Low</text>
<text x="1878" y="1667" font-size="34">High</text>

<!-- Legend -->
<ellipse cx="75" cy="1871" rx="7" ry="8" fill="url(#bBlue)"/>
<ellipse cx="108" cy="1871" rx="7" ry="8" fill="url(#bPink)"/>
<ellipse cx="142" cy="1870" rx="7" ry="8" fill="url(#bPurple)"/>
<ellipse cx="175" cy="1870" rx="7" ry="8" fill="url(#bGreen)"/>
<text x="196" y="1882" font-size="38">Substrate</text>
<use href="#pac" transform="translate(67,1930) rotate(25) scale(13)" fill="url(#ePu)"/>
<use href="#pac" transform="translate(100,1930) rotate(25) scale(13)" fill="url(#eP)"/>
<use href="#pac" transform="translate(139,1930) rotate(25) scale(13)" fill="url(#eB)"/>
<use href="#pac" transform="translate(172,1930) rotate(25) scale(13)" fill="url(#eT)"/>
<text x="201" y="1941" font-size="38">Enzyme</text>
<circle cx="457" cy="1870" r="17" fill="url(#bFe)"/>
<text x="498" y="1882" font-size="38">Fe<tspan font-size="22" dy="-16">2+</tspan></text>
<circle cx="457" cy="1937" r="17" fill="url(#bYel)"/>
<text x="498" y="1950" font-size="38">Cysteine</text>
<circle cx="797" cy="1860" r="16" fill="url(#bRed)"/>
<text x="833" y="1874" font-size="39">AuNPs (scattered)</text>
<use href="#cluster" transform="translate(794,1935) scale(0.7)"/>
<text x="833" y="1941" font-size="39">AuNPs (aggregated)</text>
<circle cx="1351" cy="1848" r="9" fill="url(#bCyan)"/>
<circle cx="1311" cy="1878" r="18" fill="url(#bHP)"/>
<circle cx="1335" cy="1877" r="18" fill="url(#bHP)"/>
<circle cx="1292" cy="1890" r="9" fill="url(#bCyan)"/>
<text x="1378" y="1882" font-size="38">H<tspan font-size="22" dy="2">2</tspan><tspan dy="-2">O</tspan><tspan font-size="22" dy="2">2</tspan></text>
<circle cx="1316" cy="1935" r="17" fill="url(#bHP)"/>
<circle cx="1344" cy="1935" r="17" fill="url(#bHP)"/>
<text x="1383" y="1947" font-size="38">O<tspan font-size="22" dy="2">2</tspan></text>
</svg>
</body></html>
